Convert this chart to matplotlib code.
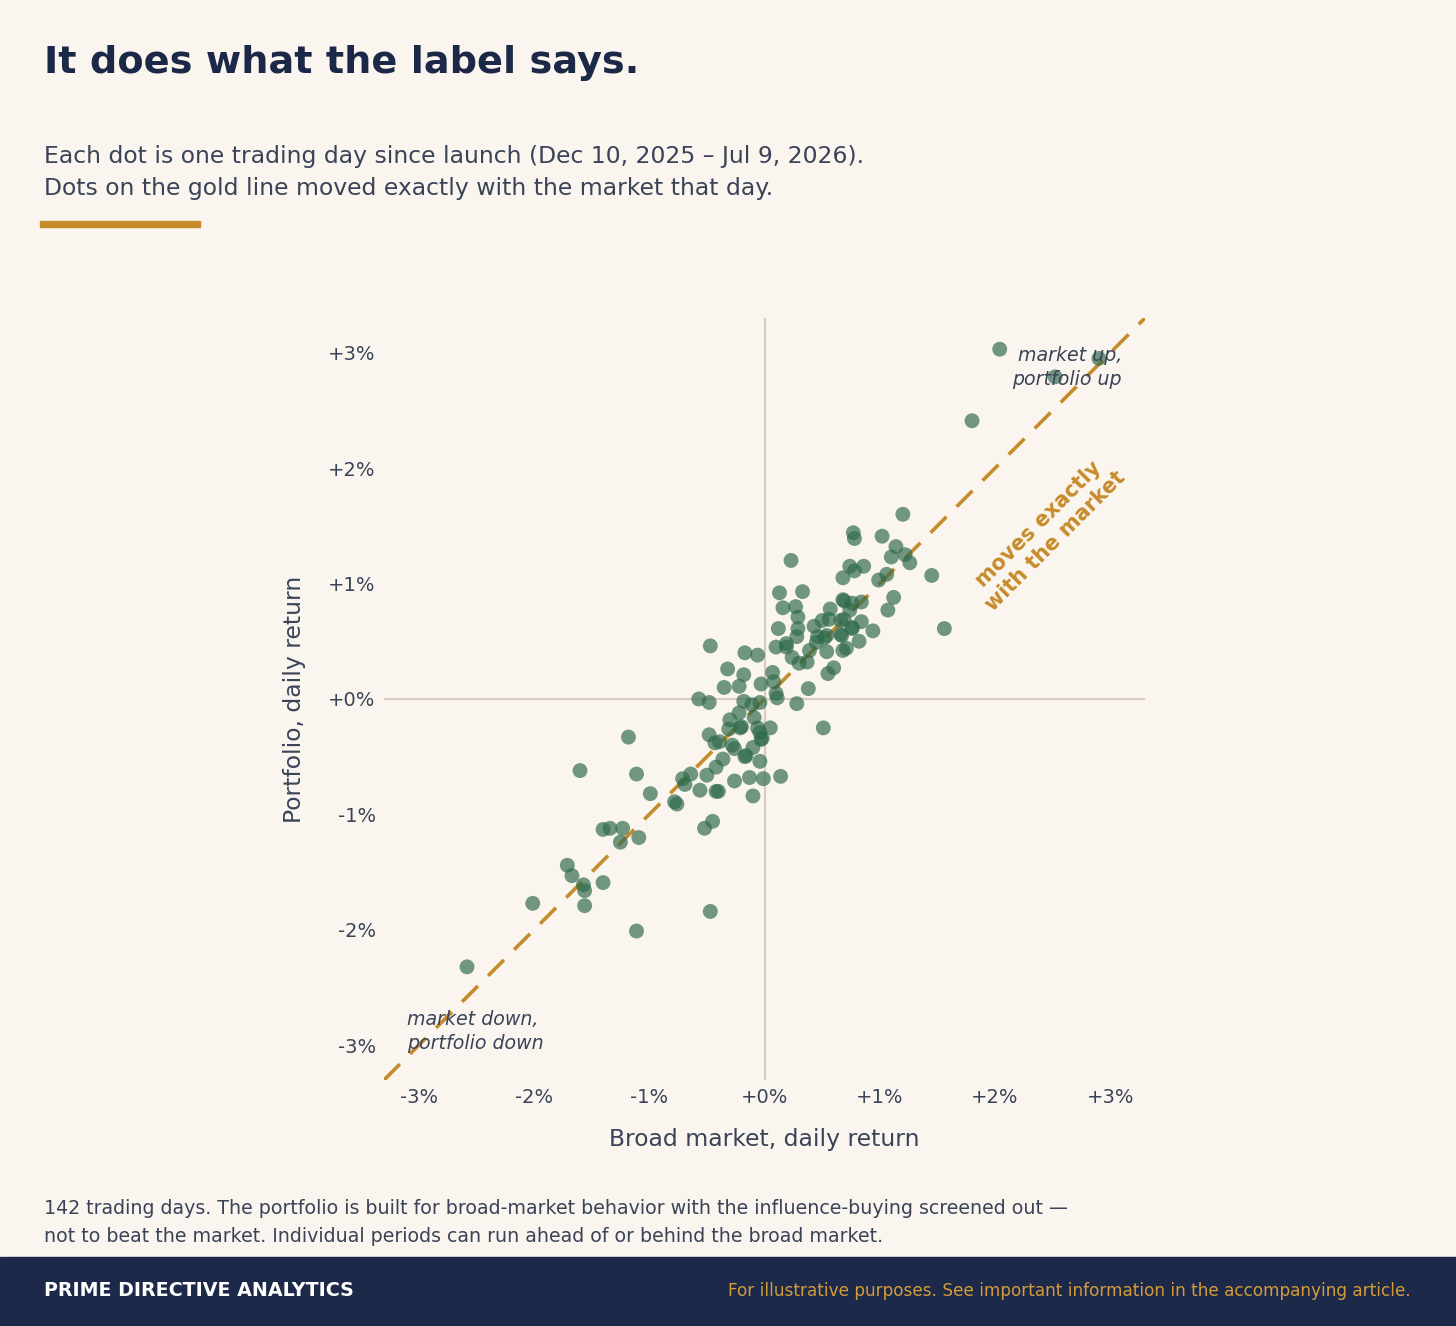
import matplotlib
matplotlib.use("Agg")
import matplotlib.pyplot as plt
from matplotlib.patches import Rectangle

# ---- data (daily returns, %) ----
market = [2.04, 2.52, 2.90, 1.80, 1.20, 0.77, 0.78, 1.02, 1.14, 1.10, 1.22, 1.26, 0.99, 1.06, 1.45,
          1.12, 1.07, 1.56, 0.94, 0.86, 0.78, 0.74, 0.68, 0.23, 0.13, 0.33, 0.16, 0.27, 0.29, 0.29,
          0.12, 0.28, 0.10, 0.19, 0.19, 0.37, 0.30, 0.24, 0.39, 0.43, 0.46, 0.45, 0.52, 0.54, 0.57,
          0.56, 0.50, 0.66, 0.67, 0.68, 0.69, 0.76, 0.84, 0.74, 0.69, 0.76, 0.84, 0.82, 0.71, 0.68,
          0.60, 0.55, 0.38, 0.28, 0.51, 0.07, 0.08, 0.10, 0.11, -0.03, -0.06, -0.17, -0.18, -0.22, -0.32,
          -0.35, -0.47, -0.57, -0.48, -0.18, -0.11, -0.04, -0.22, -0.09, -0.06, 0.05, -0.30, -0.21, -0.31, -0.03,
          -0.10, -0.28, -0.26, -0.17, -0.04, -0.36, -0.48, -0.43, -0.39, -0.42, -0.50, -0.26, -0.13, -0.01, 0.14,
          -0.10, -0.42, -0.40, -0.56, -0.45, -0.52, -0.47, -0.64, -0.71, -0.69, -0.78, -0.76, -0.99, -1.11, -1.18,
          -1.60, -1.34, -1.40, -1.23, -1.25, -1.09, -1.71, -1.67, -1.40, -1.57, -1.56, -1.56, -2.01, -1.11, -2.58,
          -0.16, -0.04, -0.20, 0.76, 0.66, 0.54, -0.02]
portfolio = [3.03, 2.79, 2.95, 2.41, 1.60, 1.44, 1.39, 1.41, 1.32, 1.23, 1.25, 1.18, 1.03, 1.08, 1.07,
             0.88, 0.77, 0.61, 0.59, 1.15, 1.11, 1.15, 1.05, 1.20, 0.92, 0.93, 0.79, 0.80, 0.71, 0.61,
             0.61, 0.54, 0.45, 0.48, 0.45, 0.32, 0.31, 0.36, 0.42, 0.63, 0.54, 0.49, 0.53, 0.41, 0.78,
             0.69, 0.68, 0.56, 0.55, 0.86, 0.85, 0.83, 0.84, 0.77, 0.69, 0.62, 0.67, 0.50, 0.44, 0.42,
             0.27, 0.22, 0.09, -0.04, -0.25, 0.23, 0.15, 0.05, 0.01, 0.13, 0.38, 0.40, 0.21, 0.11, 0.26,
             0.10, 0.46, 0.00, -0.03, -0.02, -0.05, -0.03, -0.12, -0.16, -0.25, -0.25, -0.18, -0.25, -0.26, -0.35,
             -0.42, -0.40, -0.43, -0.50, -0.54, -0.52, -0.31, -0.38, -0.37, -0.59, -0.66, -0.71, -0.68, -0.69, -0.67,
             -0.84, -0.80, -0.80, -0.79, -1.06, -1.12, -1.84, -0.65, -0.69, -0.74, -0.89, -0.91, -0.82, -0.65, -0.33,
             -0.62, -1.12, -1.13, -1.12, -1.24, -1.20, -1.44, -1.53, -1.59, -1.61, -1.66, -1.79, -1.77, -2.01, -2.32,
             -0.49, -0.29, -0.24, 0.61, 0.68, 0.55, -0.34]
ticks = [-3, -2, -1, 0, 1, 2, 3]
tick_labels = ["-3%", "-2%", "-1%", "+0%", "+1%", "+2%", "+3%"]

BG = "#FAF5EE"
NAVY = "#1B2848"
TEXT = "#3A4358"
GOLD = "#C68B2A"
DOT = "#2F6A4C"
GRIDC = "#D6CDBD"

fig = plt.figure(figsize=(14.56, 13.26), dpi=100, facecolor=BG)
W, H = 1456, 1326

def fx(px):
    return px / W

def fy(py):
    return 1 - py / H

ax = fig.add_axes([fx(384), fy(1080), (1145 - 384) / W, (1080 - 318) / H])
ax.set_facecolor(BG)
lim = (-3.3, 3.3)
ax.set_xlim(*lim)
ax.set_ylim(*lim)

ax.axhline(0, color=GRIDC, lw=1.6, zorder=1)
ax.axvline(0, color=GRIDC, lw=1.6, zorder=1)
ax.plot(lim, lim, color=GOLD, lw=2.6, dashes=(6.2, 4.0), zorder=2)
ax.scatter(market, portfolio, s=115, color=DOT, alpha=0.68, edgecolors="none", zorder=3)

for sp in ax.spines.values():
    sp.set_visible(False)
ax.set_xticks(ticks)
ax.set_xticklabels(tick_labels)
ax.set_yticks(ticks)
ax.set_yticklabels(tick_labels)
ax.tick_params(axis="x", length=0, labelsize=14, colors=TEXT, pad=6)
ax.tick_params(axis="y", length=0, labelsize=14, colors=TEXT, pad=6)
ax.set_xlabel("Broad market, daily return", fontsize=16.9, color=TEXT, labelpad=15)
ax.set_ylabel("Portfolio, daily return", fontsize=16.9, color=TEXT, labelpad=16)

ax.text(3.10, 2.87, "market up,\nportfolio up", ha="right", va="center", fontsize=13.7,
        style="italic", color=TEXT, linespacing=1.3, zorder=4)
ax.text(-3.10, -2.88, "market down,\nportfolio down", ha="left", va="center", fontsize=13.7,
        style="italic", color=TEXT, linespacing=1.3, zorder=4)
ax.text(2.45, 1.44, "moves exactly\nwith the market", ha="center", va="center", fontsize=15,
        fontweight="bold", color=GOLD, rotation=45, linespacing=1.2, zorder=4)

# ---- header ----
fig.text(fx(44), fy(63), "It does what the label says.", fontsize=27.5, fontweight="bold",
         color=NAVY, ha="left", va="center")
fig.text(fx(44), fy(156), "Each dot is one trading day since launch (Dec 10, 2025 \u2013 Jul 9, 2026).",
         fontsize=16.9, color=TEXT, ha="left", va="center")
fig.text(fx(44), fy(188), "Dots on the gold line moved exactly with the market that day.",
         fontsize=16.9, color=TEXT, ha="left", va="center")
fig.patches.append(Rectangle((fx(40), fy(227)), (200 - 40) / W, 6 / H, transform=fig.transFigure,
                             color=GOLD, zorder=5))

# ---- footnote ----
fig.text(fx(44), fy(1209), "142 trading days. The portfolio is built for broad-market behavior with the influence-buying screened out \u2014",
         fontsize=13.7, color=TEXT, ha="left", va="center")
fig.text(fx(44), fy(1237), "not to beat the market. Individual periods can run ahead of or behind the broad market.",
         fontsize=13.7, color=TEXT, ha="left", va="center")

# ---- footer band ----
fig.patches.append(Rectangle((0, 0), 1, (H - 1257) / H, transform=fig.transFigure,
                             color="#1C2949", zorder=0))
fig.text(fx(44), fy(1291), "PRIME DIRECTIVE ANALYTICS", fontsize=13.7, fontweight="bold",
         color="white", ha="left", va="center")
fig.text(fx(1411), fy(1291), "For illustrative purposes. See important information in the accompanying article.",
         fontsize=12.2, color="#D39B3A", ha="right", va="center")

fig.savefig("out.png", dpi=100, facecolor=BG)
